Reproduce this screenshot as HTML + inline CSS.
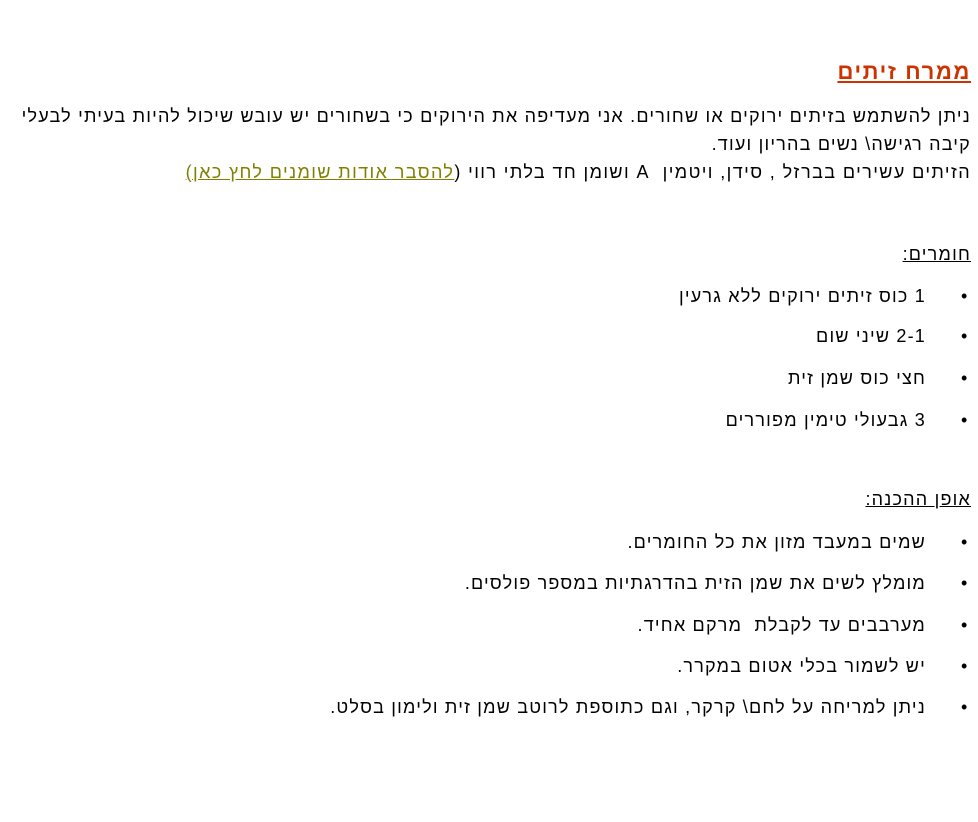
<!DOCTYPE html>
<html><head><meta charset="utf-8"><style>
body{margin:0;width:978px;height:822px;background:#fff;font-family:"Liberation Sans",Arial,sans-serif;font-size:18px;color:#000;position:relative;overflow:hidden;letter-spacing:1.2px}
.l{position:absolute;right:7px;direction:rtl;white-space:nowrap;line-height:22px}
.i{position:absolute;right:52px;direction:rtl;white-space:nowrap;line-height:22px}
.b{position:absolute;left:961px;line-height:22px;font-size:18px;letter-spacing:0}
u{text-decoration:underline}
a{color:#808000;text-decoration:underline}
</style></head><body>
<div class="l" style="top:59px;font-size:22px;font-weight:bold;color:#cc3300;line-height:26px;letter-spacing:1.6px"><u>ממרח זיתים</u></div>
<div class="l" style="top:105px">ניתן להשתמש בזיתים ירוקים או שחורים. אני מעדיפה את הירוקים כי בשחורים יש עובש שיכול להיות בעיתי לבעלי</div>
<div class="l" style="top:133px">קיבה רגישה\ נשים בהריון ועוד.</div>
<div class="l" style="top:161px;letter-spacing:1.4px">הזיתים עשירים בברזל , סידן, ויטמין&nbsp; A ושומן חד בלתי רווי (<a>להסבר אודות שומנים לחץ כאן)</a></div>
<div class="l" style="top:243px"><u>חומרים:</u></div>
<div class="b" style="top:285px">•</div><div class="i" style="top:285px">1 כוס זיתים ירוקים ללא גרעין</div>
<div class="b" style="top:325px">•</div><div class="i" style="top:325px">2-1 שיני שום</div>
<div class="b" style="top:367px">•</div><div class="i" style="top:367px">חצי כוס שמן זית</div>
<div class="b" style="top:409px">•</div><div class="i" style="top:409px">3 גבעולי טימין מפוררים</div>
<div class="l" style="top:488px"><u>אופן ההכנה:</u></div>
<div class="b" style="top:531px">•</div><div class="i" style="top:531px">שמים במעבד מזון את כל החומרים.</div>
<div class="b" style="top:572px">•</div><div class="i" style="top:572px">מומלץ לשים את שמן הזית בהדרגתיות במספר פולסים.</div>
<div class="b" style="top:614px">•</div><div class="i" style="top:614px">מערבבים עד לקבלת&nbsp; מרקם אחיד.</div>
<div class="b" style="top:655px">•</div><div class="i" style="top:655px">יש לשמור בכלי אטום במקרר.</div>
<div class="b" style="top:696px">•</div><div class="i" style="top:696px">ניתן למריחה על לחם\ קרקר, וגם כתוספת לרוטב שמן זית ולימון בסלט.</div>
</body></html>
